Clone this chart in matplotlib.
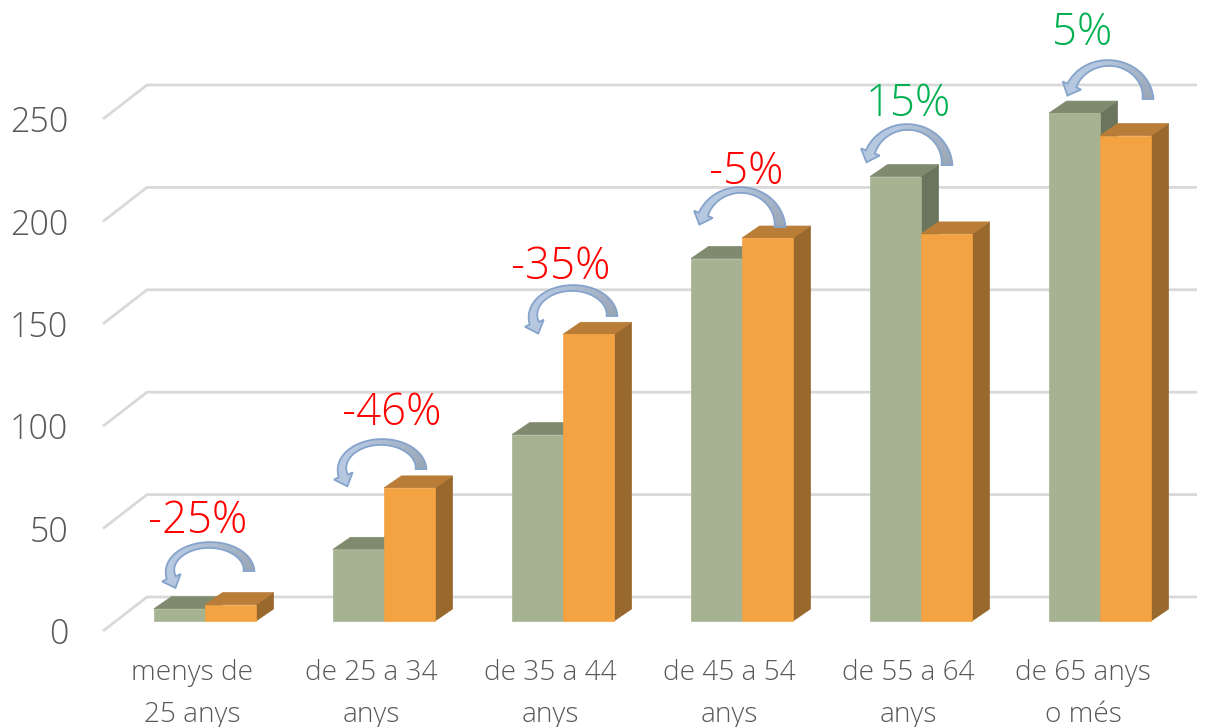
import numpy as np
import matplotlib
matplotlib.use("Agg")
import matplotlib.pyplot as plt
from matplotlib.patches import Polygon

W, H = 1213, 727
categories = ["menys de\n25 anys", "de 25 a 34\nanys", "de 35 a 44\nanys",
              "de 45 a 54\nanys", "de 55 a 64\nanys", "de 65 anys\no més"]
series_green = [6, 35, 91, 177, 217, 248]
series_orange = [8, 65, 140, 187, 189, 237]
change_labels = ["-25%", "-46%", "-35%", "-5%", "15%", "5%"]
y_ticks = [0, 50, 100, 150, 200, 250]

RED = "#ff0000"
GREEN = "#00b050"
TXT = "#595959"
GRID = "#d9d9d9"
font = "Open Sans"
weight = "light"

PX_PER_UNIT = 2.048
PX_PER_CAT = 179.0
X0_PX, Y0_PX = 205.0, 621.0

fig = plt.figure(figsize=(W / 100, H / 100), dpi=100)
ax = fig.add_axes([0, 0, 1, 1])
ax.set_xlim((0 - X0_PX) / PX_PER_CAT, (W - X0_PX) / PX_PER_CAT)
ax.set_ylim((Y0_PX - H) / PX_PER_UNIT, Y0_PX / PX_PER_UNIT)
ax.axis("off")

# overlay in pixel coordinates for decorations (arrows, call-outs)
ov = fig.add_axes([0, 0, 1, 1], facecolor="none")
ov.set_xlim(0, W)
ov.set_ylim(H, 0)
ov.axis("off")

bar_w = 51.0 / PX_PER_CAT
dx = 17.5 / PX_PER_CAT
dy = 12.0 / PX_PER_UNIT

# walls / gridlines
grid_left = (103 - X0_PX) / PX_PER_CAT
grid_back = (147 - X0_PX) / PX_PER_CAT
grid_right = (1197 - X0_PX) / PX_PER_CAT
floor_front = (Y0_PX - 631) / PX_PER_UNIT
floor_back = (Y0_PX - 597) / PX_PER_UNIT
for v in y_ticks:
    ax.plot([grid_left, grid_back, grid_right],
            [v + floor_front, v + floor_back, v + floor_back],
            color=GRID, lw=2.0, solid_capstyle="butt", solid_joinstyle="miter", zorder=1)
    ax.text((68 - X0_PX) / PX_PER_CAT, v + floor_front, str(v), ha="right", va="center_baseline",
            fontsize=24.5, color=TXT, family=font, weight=weight, zorder=5)


def bar3d(x, v, front, top, side):
    ax.add_patch(Polygon([(x + bar_w, 0), (x + bar_w + dx, dy), (x + bar_w + dx, v + dy), (x + bar_w, v)],
                         fc=side, ec=side, lw=0.5, zorder=3))
    ax.add_patch(Polygon([(x, v), (x + dx, v + dy), (x + bar_w + dx, v + dy), (x + bar_w, v)],
                         fc=top, ec=top, lw=0.5, zorder=3))
    ax.add_patch(Polygon([(x, 0), (x + bar_w, 0), (x + bar_w, v), (x, v)],
                         fc=front, ec=front, lw=0.5, zorder=3))


for i, (g, o) in enumerate(zip(series_green, series_orange)):
    bar3d(i - bar_w, g, "#a6b392", "#7f8a6e", "#6b755d")
    bar3d(i, o, "#f4a343", "#b97d38", "#99682c")
    first, second = categories[i].split("\n")
    xc_lab = i - 0.07 if i < 5 else i - 0.095
    ax.text(xc_lab, (Y0_PX - 673) / PX_PER_UNIT, first, ha="center", va="center",
            fontsize=20.2, color=TXT, family=font, weight=weight, zorder=5)
    ax.text(xc_lab, (Y0_PX - 715) / PX_PER_UNIT, second, ha="center", va="center",
            fontsize=20.2, color=TXT, family=font, weight=weight, zorder=5)


def curved_arrow(tail_x, tail_y, top_y, t_end):
    cx = tail_x - 39.5
    rx, ry = 39.5, tail_y - top_y
    ts = np.radians(np.linspace(0, t_end, 60))
    frac = np.linspace(0, 1, 60)
    hw = 5.4 - 3.0 * np.sin(np.minimum(frac * 1.6, 1) * np.pi / 2) + 2.4 * frac ** 3
    nx, ny = np.cos(ts), -np.sin(ts)
    xc, yc = cx + rx * nx, tail_y + ry * ny
    xo, yo = xc + hw * nx, yc + hw * ny
    xi, yi = xc - hw * nx, yc - hw * ny
    # gradient body
    c0 = np.array([0x98, 0xa4, 0xb4]) / 255
    c1 = np.array([0xb5, 0xc8, 0xe0]) / 255
    for k in range(len(ts) - 1):
        c = c0 + (c1 - c0) * min(1, frac[k] * 1.5)
        ov.add_patch(Polygon([(xo[k], yo[k]), (xo[k + 1], yo[k + 1]), (xi[k + 1], yi[k + 1]), (xi[k], yi[k])],
                             fc=c, ec=c, lw=0.4, zorder=6))
    # tangent at end
    tx, ty = -rx * np.sin(ts[-1]), -ry * np.cos(ts[-1])
    n = np.hypot(tx, ty)
    tx, ty = tx / n, ty / n
    px, py = -ty, tx
    tip = (xc[-1] + 11 * tx, yc[-1] + 11 * ty)
    a = (xc[-1] + 10 * px, yc[-1] + 10 * py)
    b = (xc[-1] - 10 * px, yc[-1] - 10 * py)
    ov.add_patch(Polygon([a, tip, b], fc=c1, ec=c1, lw=0.4, zorder=6))
    outer_first = np.dot([b[0] - xc[-1], b[1] - yc[-1]], [nx[-1], ny[-1]]) > 0
    p1, p2 = (b, a) if outer_first else (a, b)
    outline = list(zip(xo, yo)) + [p1, tip, p2] + list(zip(xi[::-1], yi[::-1]))
    ov.add_patch(Polygon(outline, fc="none", ec="#86a3cb", lw=1.3, joinstyle="miter", zorder=7))


arrow_tail_x = [249, 421, 612, 780, 947, 1148]
arrow_tail_y = [571, 469, 316, 227, 165, 99]
arrow_top_y = [545, 442, 288, 190, 127, 63]
arrow_end = [195, 195, 195, 160, 160, 158]
label_x = [198, 392, 561, 746, 908, 1082]
label_y = [522, 414, 268, 173, 105, 34]

for i, lab in enumerate(change_labels):
    curved_arrow(arrow_tail_x[i], arrow_tail_y[i], arrow_top_y[i], arrow_end[i])
    col = GREEN if not lab.startswith("-") else RED
    ov.text(label_x[i], label_y[i], lab, ha="center", va="center", fontsize=31.5, color=col,
            family=font, weight=weight, zorder=8)

fig.savefig("out.png", dpi=100, facecolor="white")
